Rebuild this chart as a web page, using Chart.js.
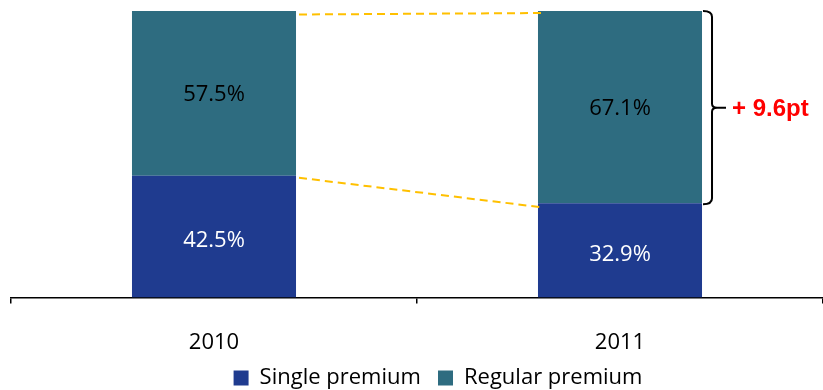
<!DOCTYPE html>
<html>
<head>
<meta charset="utf-8">
<script src="https://cdn.jsdelivr.net/npm/chart.js@4"></script>
<style>
  html, body { margin: 0; padding: 0; background: #fff; }
  #wrap { width: 823px; height: 390px; }
</style>
</head>
<body>
<div id="wrap"><canvas id="mixChart"></canvas></div>
<script>
// DATA
let years = ["2010", "2011"];
let singlePremium = [42.5, 32.9];
let regularPremium = [57.5, 67.1];
let seriesNames = ["Single premium", "Regular premium"];
let changeLabel = "+ 9.6pt";

let singleColor = '#1F3B8F';
let regularColor = '#2E6C80';
let fontFam = '"Open Sans", sans-serif';

// connector lines + bracket, drawn from the scales
let annotate = {
    id: 'annotate',
    afterLayout(chart) {
        // legend sits a little right of centre in the original
        chart.legend.left += 20;
        chart.legend.right += 20;
    },
    afterDatasetsDraw(chart) {
        let ctx = chart.ctx;
        let y = chart.scales.y;
        let bars0 = chart.getDatasetMeta(0).data;
        let bars1 = chart.getDatasetMeta(1).data;
        let halfW = bars0[0].width / 2;
        let r0 = bars0[0].x + halfW;
        let l1 = bars0[1].x - halfW;
        let r1 = bars0[1].x + halfW;

        ctx.save();
        ctx.strokeStyle = '#FFC000';
        ctx.lineWidth = 2;
        ctx.setLineDash([8, 5]);
        let top0 = y.getPixelForValue(singlePremium[0] + regularPremium[0]);
        let top1 = y.getPixelForValue(singlePremium[1] + regularPremium[1]);
        ctx.beginPath();
        ctx.moveTo(r0 + 3, top0 + 3.5);
        ctx.lineTo(l1 + 6, top1 + 2);
        ctx.stroke();
        let mid0 = y.getPixelForValue(singlePremium[0]);
        let mid1 = y.getPixelForValue(singlePremium[1]);
        ctx.beginPath();
        ctx.moveTo(r0 + 3, mid0 + 2);
        ctx.lineTo(l1 + 4, mid1 + 4);
        ctx.stroke();
        ctx.setLineDash([]);

        // bracket
        let bx = r1 + 10;
        let bTop = top1, bBot = mid1 + 1;
        let bMid = (bTop + bBot) / 2;
        ctx.strokeStyle = '#000';
        ctx.lineWidth = 2;
        ctx.beginPath();
        ctx.moveTo(r1 + 1, bTop);
        ctx.quadraticCurveTo(bx, bTop, bx, bTop + 6);
        ctx.lineTo(bx, bMid - 4);
        ctx.quadraticCurveTo(bx, bMid, bx + 5, bMid);
        ctx.lineTo(bx + 14, bMid);
        ctx.moveTo(bx + 5, bMid);
        ctx.quadraticCurveTo(bx, bMid, bx, bMid + 4);
        ctx.lineTo(bx, bBot - 6);
        ctx.quadraticCurveTo(bx, bBot, r1 + 1, bBot);
        ctx.stroke();

        ctx.fillStyle = '#FF0000';
        ctx.font = 'bold 24px "Liberation Sans", Arial, sans-serif';
        ctx.textBaseline = 'middle';
        ctx.textAlign = 'left';
        ctx.fillText(changeLabel, bx + 20, bMid + 2);

        // value labels
        ctx.font = '22px ' + fontFam;
        ctx.textAlign = 'center';
        for (let i = 0; i < years.length; i++) {
            ctx.fillStyle = '#FFFFFF';
            ctx.fillText(singlePremium[i].toFixed(1) + '%', bars0[i].x, (bars0[i].y + bars0[i].base) / 2 + 4);
            ctx.fillStyle = '#000000';
            ctx.fillText(regularPremium[i].toFixed(1) + '%', bars1[i].x, (bars1[i].y + bars1[i].base) / 2 + 1.5);
        }
        ctx.restore();
    }
};

let chartCtx = document.getElementById('mixChart').getContext('2d');
let mixChart = new Chart(chartCtx, {
    type: 'bar',
    data: {
        labels: years,
        datasets: [{
            label: seriesNames[0],
            data: singlePremium,
            backgroundColor: singleColor,
            borderWidth: 0,
            categoryPercentage: 1.0,
            barPercentage: 0.404
        }, {
            label: seriesNames[1],
            data: regularPremium,
            backgroundColor: regularColor,
            borderWidth: 0,
            categoryPercentage: 1.0,
            barPercentage: 0.404
        }]
    },
    options: {
        responsive: true,
        maintainAspectRatio: false,
        animation: false,
        layout: { padding: { left: 11, right: -2, top: 11, bottom: -9 } },
        scales: {
            x: {
                stacked: true,
                offset: true,
                border: { display: true, color: '#000', width: 1.5 },
                grid: { display: true, offset: true, drawOnChartArea: false, color: '#000', lineWidth: 1.5, tickLength: 6 },
                ticks: { color: '#000', padding: 26, font: { family: fontFam, size: 22 } },
                afterFit(scale) { scale.height = scale.height - 15; }
            },
            y: {
                stacked: true,
                display: false,
                min: 0,
                max: 100
            }
        },
        plugins: {
            legend: {
                position: 'bottom',
                labels: {
                    color: '#000',
                    boxWidth: 15,
                    boxHeight: 15,
                    padding: 0,
                    font: { family: fontFam, size: 22 },
                    generateLabels(chart) {
                        let items = Chart.defaults.plugins.legend.labels.generateLabels(chart);
                        items.forEach((it, i) => { if (i < items.length - 1) it.text = it.text + '   '; });
                        return items;
                    }
                }
            },
            tooltip: { enabled: false }
        }
    },
    plugins: [annotate]
});
</script>
</body>
</html>
